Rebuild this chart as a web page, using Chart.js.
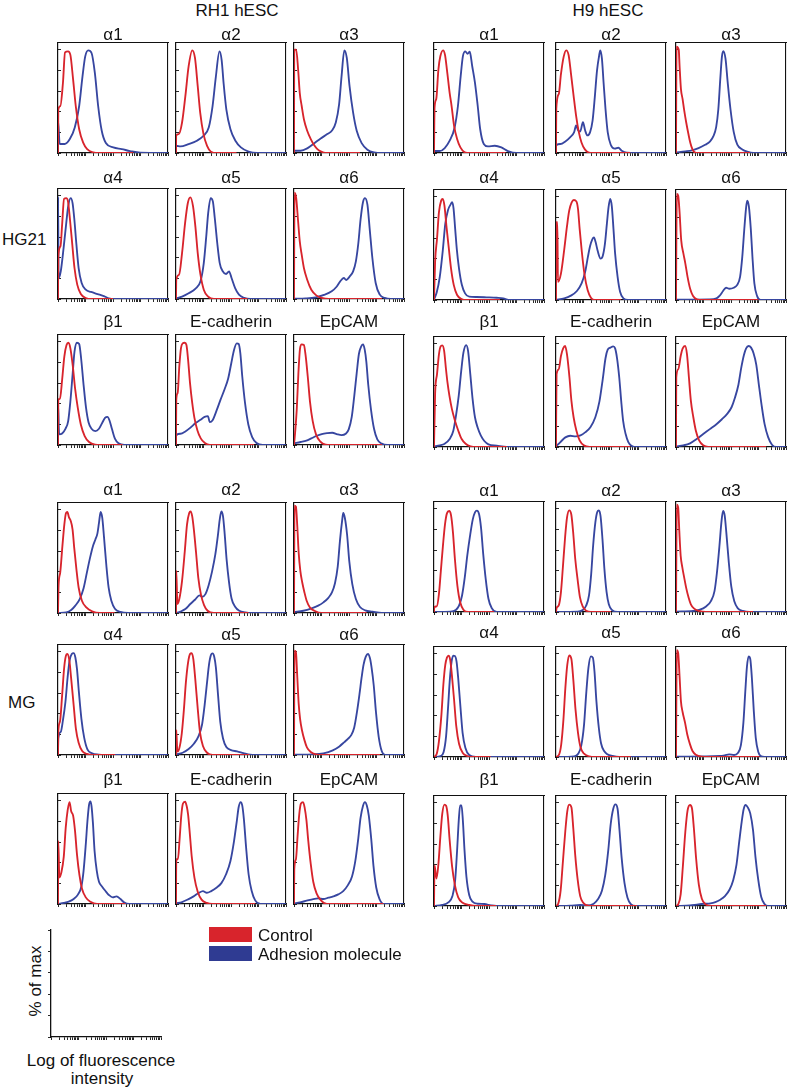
<!DOCTYPE html>
<html><head><meta charset="utf-8">
<script src="https://cdn.jsdelivr.net/npm/chart.js@4.4.1/dist/chart.umd.min.js"></script>
<style>
body{margin:0;background:#fff;}
#fig{position:relative;width:788px;height:1090px;overflow:hidden;font-family:"Liberation Sans",Arial,sans-serif;color:#111;background:#fff;}
.t{position:absolute;font-size:17px;line-height:17px;white-space:nowrap;}
canvas{position:absolute;}
.sw{position:absolute;}
</style></head><body><div id="fig"></div>
<script>
// ---------- DATA: x = log10 fluorescence (0..4 decades), y = % of max ----------
// RH1 hESC on HG21
const R_H_a1c=[0,0,.01,42,.085,45.5,.18,68,.256,97.4,.366,98.4,.45,95,.55,71,.646,45.5,.77,23,.915,10,1.06,3.8,1.28,0.6,1.5,0,2.74,0];
const R_H_a1a=[0,0,.005,31,.06,8.7,.24,8.7,.43,13.5,.61,24.7,.77,45.5,.89,74,.99,93.6,1.1,99.4,1.22,96.8,1.34,77.6,1.46,45.5,1.59,21.5,1.74,9.6,2.01,5.4,2.32,3.8,2.62,1.9,2.99,0.3,4,0];
const R_H_a2c=[0,0,.005,16.7,.1,18.3,.22,29.5,.34,55,.46,84,.59,99.4,.69,92,.79,64.7,.88,39,1.0,18.3,1.13,7,1.27,1.3,1.49,0,2.2,0];
const R_H_a2a=[0,0,.005,7,.16,6.4,.46,8.7,.76,11.9,1.0,16.7,1.19,24.7,1.33,45.5,1.45,74,1.58,98.4,1.66,90,1.73,67.9,1.83,42.3,1.98,23,2.16,11.9,2.36,5.4,2.64,1.3,2.95,0,4,0];
const R_H_a3c=[0,0,.01,100,.08,100,.15,80.8,.21,58,.28,45.5,.36,32.7,.48,21.5,.61,13.5,.73,7.7,.85,3.8,.99,1.3,1.15,0,2.4,0];
const R_H_a3a=[0,2.2,.24,2.2,.48,4.5,.73,9.3,.97,14.1,1.21,18.3,1.39,22,1.52,29.5,1.64,47,1.73,74.4,1.83,99.4,1.92,92,2.02,64.7,2.15,39,2.28,21.5,2.46,9.6,2.67,3.2,2.91,0.6,3.21,0,4,0];
const R_H_a4c=[0,0,.01,41.3,.09,51,.15,72,.22,97,.3,97.7,.36,95,.43,78.4,.52,52.6,.6,30,.7,13.9,.83,4.8,1.01,1,1.2,0,2.0,0];
const R_H_a4a=[0,0,.005,99,.02,20,.1,26.8,.21,51,.3,73.5,.37,89.7,.46,97.7,.53,92.9,.59,78.4,.67,52.6,.75,30,.86,15.5,1.01,9,1.2,6.8,1.44,4.8,1.69,2.6,1.85,0.6,2.06,0,4,0];
const R_H_a5c=[0,0,.01,18.7,.11,23.5,.22,44.5,.33,73.5,.43,92.9,.52,98.4,.62,89.7,.71,68.7,.79,44.5,.89,23.5,1.01,9,1.16,2.6,1.38,0,2.6,0];
const R_H_a5a=[0,0.6,.22,2.3,.46,5.5,.71,10,.89,17.1,1.01,34.8,1.1,60.6,1.17,83.2,1.26,97.7,1.34,94.5,1.41,78.4,1.5,54.2,1.59,34.8,1.7,26.8,1.82,24.2,1.93,26.8,2.02,20.3,2.15,10.6,2.29,4.2,2.48,1,2.7,0,4,0];
const R_H_a6c=[0,0,.02,103,.08,97.7,.15,75,.21,55.8,.28,42.9,.36,30,.48,18.7,.63,9,.81,3.5,1.01,1,1.27,0,3.2,0];
const R_H_a6a=[0,0.3,.42,0.6,.79,1.6,1.09,3.9,1.37,7.4,1.54,11.6,1.68,17.1,1.81,20.3,1.9,18.4,2.02,21.6,2.15,26.8,2.25,36.5,2.34,54.2,2.42,76.8,2.51,93.9,2.58,97.7,2.67,91.3,2.75,68.7,2.85,39.7,2.97,15.5,3.12,4.2,3.3,1,3.52,0,4,0];
const R_H_b1c=[0,0,.01,43.9,.07,44.6,.15,63.1,.23,85.6,.31,96.8,.38,99,.45,93.6,.54,76,.62,55.1,.72,35.9,.83,19.9,.97,8.7,1.13,2.9,1.35,0.3,1.55,0,2.35,0];
const R_H_b1a=[0,0,.005,39.1,.04,10.3,.15,11.2,.27,15.7,.37,23.1,.45,42.3,.53,67.9,.6,90.4,.69,99,.77,97.8,.84,84,.93,58.3,1.02,35.9,1.11,22.1,1.22,15.7,1.36,13.5,1.49,15.7,1.61,21.5,1.71,26.3,1.8,27.2,1.87,24,1.96,15.7,2.07,6.1,2.2,1.6,2.41,0,4,0];
const R_H_Ecc=[0,0,.01,43.9,.06,50.3,.12,76,.18,93.6,.24,98.4,.32,99,.38,96.8,.44,82.4,.51,59.9,.59,40.7,.67,26.3,.78,14.1,.9,6.4,1.05,1.9,1.23,0,2.84,0];
const R_H_Eca=[0,0,.005,9.3,.16,10.9,.34,13.1,.52,16.7,.71,21.2,.89,24.4,1.04,27.2,1.16,27.9,1.23,22.1,1.33,24,1.48,33.7,1.62,43.9,1.77,54.2,1.9,64.7,2.01,79.2,2.11,92,2.21,98.4,2.28,97.8,2.34,88.8,2.41,66.3,2.51,40.7,2.63,19.9,2.77,7.7,2.93,1.9,3.15,0,4,0];
const R_H_Epc=[0,0,.04,11.9,.1,34.3,.16,69.6,.22,93.6,.28,97.4,.36,96.8,.42,87.2,.5,66.3,.58,42.3,.68,23.1,.8,10.3,.95,3.5,1.15,0.3,1.33,0,3.2,0];
const R_H_Epa=[0,1.6,.24,2.9,.45,4.2,.63,6.4,.81,8.7,1.01,10.6,1.21,11.5,1.39,11.9,1.58,10.3,1.73,9.6,1.88,10.9,1.99,15.1,2.1,27.2,2.19,47.1,2.28,69.6,2.36,88.1,2.45,95.8,2.51,97.4,2.57,92.6,2.63,80.8,2.7,58.3,2.8,34.3,2.91,15.7,3.03,5.4,3.19,1.3,3.39,0,4,0];
// H9 hESC on HG21
const H_H_a1c=[0,0,.02,44,.08,52,.16,80.8,.23,93.6,.33,99.4,.4,95,.47,80.8,.57,58,.64,45.5,.73,26.3,.84,13.5,.96,5.4,1.12,0.6,1.3,0,2.6,0];
const H_H_a1a=[0,1.9,.21,1.9,.39,4.8,.57,11.9,.75,24.7,.87,45.5,.97,74.4,1.05,93.6,1.14,98.4,1.22,96,1.3,98,1.39,84,1.49,68,1.59,45.5,1.68,23,1.81,8.7,1.96,6.4,2.21,7,2.45,5.4,2.69,1.9,3.0,0,4,0];
const H_H_a2c=[0,0,.01,42.6,.1,57,.18,76.3,.28,93.3,.37,99.4,.46,94.6,.54,77.9,.64,55.4,.73,36.2,.83,20.2,.93,9.9,1.05,3.5,1.2,0.3,1.35,0,2.7,0];
const H_H_a2a=[0,0,.005,7.4,.16,8.7,.34,11.2,.52,15.4,.66,20.2,.73,26.6,.81,21.8,.88,20.8,.98,29.8,1.06,21.8,1.14,17,1.24,20.2,1.33,31.4,1.41,53.8,1.49,79.5,1.57,94.6,1.61,99.4,1.67,91.3,1.73,68.3,1.8,42.6,1.88,20.2,1.99,8,2.14,4.2,2.27,5.1,2.39,2.2,2.57,0.3,2.93,0,4,0];
const H_H_a3c=[0,0,.02,103,.1,100,.13,84.3,.18,61.9,.24,52.2,.3,41,.37,29.8,.45,18.6,.52,9.9,.6,3.5,.7,0.3,.8,0,2.69,0];
const H_H_a3a=[0,0.6,.34,1.6,.58,2.6,.82,4.8,1.06,8,1.24,11.2,1.36,16.3,1.46,25,1.54,42.6,1.61,71.5,1.67,93.3,1.72,98.7,1.8,91.3,1.88,68.3,1.98,42.6,2.1,20.2,2.23,8,2.41,3.5,2.59,1.3,2.81,0,4,0];
const H_H_a4c=[0,0,.04,36.9,.11,59.3,.18,85,.26,96.2,.32,97.8,.38,91.3,.45,72.1,.54,49.7,.62,30.4,.72,14.4,.84,4.8,1.0,1,1.18,0,2.4,0];
const H_H_a4a=[0,0.6,.1,7.4,.21,22.4,.32,48.1,.41,73.7,.51,87.2,.6,92.3,.66,94.6,.71,88.8,.77,68.9,.83,49,.91,30.4,1.01,15,1.13,6.4,1.28,3.2,1.55,2.9,1.91,2.6,2.28,2.2,2.52,1.6,2.71,0,4,0];
const H_H_a5c=[0,0,.01,75.3,.05,75.3,.07,17.6,.18,25.6,.3,49,.4,71.5,.48,86.5,.57,94.6,.65,96.8,.74,95.5,.8,88.1,.86,68.9,.94,46.5,1.04,24,1.15,9.6,1.27,2.2,1.41,0,2.36,0];
const H_H_a5a=[0,0.3,.3,1.6,.54,4.2,.76,8.7,.93,16,1.06,27.2,1.16,41.7,1.24,52.2,1.32,58.7,1.38,60.6,1.44,56.1,1.52,47.1,1.62,40.1,1.7,42.6,1.78,54.5,1.85,73.7,1.91,89.7,1.97,97.8,2.03,90.7,2.09,68.9,2.15,44.9,2.24,22.4,2.33,8,2.45,1.6,2.62,0,4,0];
const H_H_a6c=[0,0,.03,102.6,.08,101,.13,85,.19,57.7,.27,44.9,.34,35.3,.42,22.4,.52,10.3,.62,3.8,.76,0.6,.95,0,3.0,0];
const H_H_a6a=[0,0.3,1.19,0.6,1.47,1.6,1.59,4.2,1.71,8.7,1.82,11.9,1.94,10.9,2.1,11.9,2.22,14.4,2.33,22.4,2.41,41.7,2.48,67.3,2.55,89.7,2.59,96.2,2.65,90.7,2.72,68.9,2.78,41.7,2.85,16,2.95,3.8,3.07,0,4,0];
const H_H_b1c=[0,0,.04,51.3,.11,70.5,.18,89.7,.24,97.4,.3,98.4,.37,92.9,.43,76.9,.49,62.5,.56,49.7,.65,36.9,.76,25.6,.88,16,1.0,8,1.15,3.2,1.33,0.6,1.55,0,2.65,0];
const H_H_b1a=[0,0.6,.21,1.6,.39,3.2,.57,7.7,.7,15.4,.8,30.4,.9,49.7,.99,73.7,1.07,91.3,1.17,98.7,1.24,92.9,1.32,70.5,1.4,47.4,1.49,28.8,1.59,18.6,1.7,11.2,1.83,5.8,1.98,2.6,2.28,1.3,2.65,0,4,0];
const H_H_Ecc=[0,0,.02,70.5,.1,75.3,.18,88.1,.26,95.5,.33,97.8,.4,89.7,.49,67.3,.56,44.9,.64,28.8,.74,16,.86,6.4,1.01,1.6,1.22,0,2.7,0];
const H_H_Eca=[0,0.6,.16,4.8,.34,9.3,.52,10.9,.71,10.3,.89,11.2,1.07,14.4,1.25,19.2,1.43,28.8,1.58,44.2,1.7,65.7,1.8,85.9,1.88,94.2,1.98,96.2,2.08,97.4,2.15,95.5,2.22,85.9,2.3,67.3,2.37,44.9,2.44,25.6,2.53,12.8,2.63,4.8,2.74,1.3,2.95,0,4,0];
const H_H_Epc=[0,0,.01,67.3,.08,75.3,.17,88.1,.24,95.2,.33,97.8,.4,89.7,.47,67.3,.54,44.9,.63,28.8,.72,16,.84,6.4,.99,1.6,1.17,0,3.28,0];
const H_H_Epa=[0,0.6,.27,1.6,.51,3.5,.75,7.7,.99,12.5,1.23,17.3,1.47,22.1,1.67,26.9,1.86,32.1,2.02,38.5,2.14,47.4,2.27,60.3,2.37,76.3,2.47,89.1,2.55,95.5,2.64,97.8,2.73,96.2,2.82,90.7,2.92,79.5,3.01,60.9,3.11,41,3.22,22.4,3.35,9.6,3.49,2.2,3.64,0,4,0];
// RH1 hESC on MG
const R_M_a1c=[0,0,.02,26.3,.08,39.1,.16,64.7,.23,85.6,.29,96.8,.34,97.8,.4,92.6,.46,89.4,.53,80.8,.59,63.1,.67,42.3,.75,24.7,.87,11.9,1.03,5.4,1.24,1.6,1.52,0,2.06,0];
const R_M_a1a=[0,0,.3,0.6,.48,2.9,.63,7.1,.79,13.5,.93,24,1.05,39.1,1.16,52.9,1.27,64.7,1.36,71.2,1.43,76.6,1.49,87.2,1.55,97.8,1.61,92,1.67,74.4,1.76,45.5,1.84,24.7,1.94,11.9,2.07,4.2,2.27,1,2.55,0,4,0];
const R_M_a2c=[0,0,.01,40.7,.05,8.7,.12,13.5,.22,31.1,.32,59.9,.4,85.6,.48,96.8,.53,98.4,.59,93.6,.65,80.8,.73,58.3,.81,34.3,.91,17.6,1.02,7.7,1.15,2.2,1.37,0,2.64,0];
const R_M_a2a=[0,0,.16,1.3,.34,3.8,.52,8.7,.7,13.1,.85,17,.95,15.7,1.07,18.3,1.19,27.2,1.31,40.1,1.43,56.7,1.52,74.4,1.59,90.4,1.65,98.4,1.71,93.6,1.77,76.6,1.84,51.9,1.93,29.5,2.02,14.1,2.15,6.1,2.3,2.2,2.52,0.6,2.74,0,4,0];
const R_M_a3c=[0,0,.02,104,.07,103,.12,84,.17,58.3,.23,40.7,.3,29.5,.38,19.9,.46,11.9,.58,5.4,.76,1.9,1.01,0,2.64,0];
const R_M_a3a=[0,1,.34,2.2,.64,4.5,.88,7.1,1.07,10.3,1.25,14.7,1.38,19.9,1.49,28.8,1.59,44.9,1.67,69.6,1.75,89.4,1.79,96.8,1.85,92,1.93,76,2.01,50.3,2.12,27.9,2.25,13.5,2.4,5.8,2.59,2.6,2.86,1.3,3.19,0,4,0];
const R_M_a4c=[0,0,.01,22.4,.07,32.1,.15,57.7,.22,83.3,.28,95.2,.34,97.8,.41,92,.48,73.7,.57,48.1,.65,25.6,.75,11.9,.88,3.8,1.05,1,1.26,0,2.08,0];
const R_M_a4a=[0,0,.01,16,.1,22.4,.18,33.7,.27,51.3,.35,75.3,.42,91.3,.5,97.8,.57,98.7,.63,94.6,.69,83.3,.76,60.9,.85,35.3,.95,17,1.07,5.4,1.24,1.6,1.48,0.3,1.72,0,4,0];
const R_M_a5c=[0,0,.01,24,.05,3.2,.12,6.4,.21,20.8,.29,44.9,.36,70.5,.44,89.7,.51,97.8,.57,98.7,.63,92.9,.7,73.7,.79,44.9,.87,22.4,.98,8.7,1.13,2.2,1.33,0,2.67,0];
const R_M_a5a=[0,0.6,.24,2.2,.46,5.8,.65,10.9,.82,18.3,.95,29.8,1.04,48.1,1.13,70.5,1.2,87.5,1.27,96.8,1.33,98.4,1.39,95.2,1.45,84.9,1.53,57.7,1.61,32.1,1.71,16,1.83,7.7,2.0,4.8,2.22,3.5,2.45,1.9,2.69,0.3,2.91,0,4,0];
const R_M_a6c=[0,0,.02,101,.07,99.4,.12,75.3,.17,49.7,.22,35.3,.29,24,.38,14.4,.47,7.4,.61,2.9,.8,0.6,1.01,0,3.13,0];
const R_M_a6a=[0,0.3,.7,0.6,1.07,1.6,1.41,4.5,1.65,8.3,1.83,12.5,1.96,15.7,2.08,19.2,2.19,26.6,2.29,41.7,2.38,58.7,2.46,75.3,2.53,87.5,2.61,95.2,2.69,97.8,2.76,93.9,2.82,84.9,2.9,67.3,2.98,41.7,3.08,17.6,3.19,3.8,3.31,0,4,0];
const R_M_b1c=[0,0,.01,60.9,.05,25.6,.12,30.4,.21,45.8,.28,73.7,.35,90.7,.42,98.7,.48,89.7,.55,85.6,.62,70.5,.69,48.1,.78,27.9,.87,15.1,1.01,6.4,1.18,2.2,1.42,0,2.45,0];
const R_M_b1a=[0,0,.21,1,.39,2.2,.57,4.8,.73,9.3,.85,17,.93,32.1,1.01,57.7,1.07,80.1,1.13,96.2,1.18,99.4,1.22,94.6,1.27,78.5,1.33,51.3,1.41,32.1,1.49,21.5,1.6,17,1.72,12.8,1.85,8.7,1.99,6.4,2.13,7.4,2.27,4.8,2.4,1.6,2.59,0,4,0];
const R_M_Ecc=[0,0,.01,43.3,.07,43.3,.13,62.5,.19,84.9,.25,97.1,.33,99,.39,94.6,.44,86.5,.5,68.9,.57,46.5,.67,25.6,.79,11.9,.93,4.2,1.12,1,1.31,0,2.88,0];
const R_M_Eca=[0,0.6,.22,1.9,.44,4.5,.64,7.4,.82,10.6,.98,12.5,1.12,10.9,1.28,12.5,1.47,15.7,1.65,20.2,1.82,28.8,1.98,41.7,2.11,60.9,2.21,80.1,2.28,93.9,2.35,98.7,2.41,95.2,2.47,81.7,2.55,54.5,2.64,28.8,2.75,12.8,2.88,3.5,3.07,0,4,0];
const R_M_Epc=[0,0,.01,33.7,.07,43.3,.13,65.7,.19,86.5,.25,97.1,.33,98.7,.39,92.9,.45,81.7,.52,60.9,.61,38.5,.7,21.5,.82,10.3,.98,3.5,1.19,0,3.25,0];
const R_M_Epa=[0,0.6,.22,1.6,.46,3.2,.7,4.8,.88,5.4,1.07,4.8,1.25,6.1,1.43,7.4,1.61,9.3,1.79,12.5,1.96,18.3,2.11,26.6,2.23,41.7,2.34,64.1,2.42,83.3,2.51,95.2,2.58,98.7,2.65,95.2,2.72,85.6,2.81,62.5,2.89,36.9,2.99,16,3.11,4.8,3.27,0,4,0];
// H9 hESC on MG
const H_M_a1c=[0,0,.01,4.8,.1,5.4,.18,17.6,.25,40.1,.33,65.7,.4,84.9,.47,95.5,.55,97.8,.62,93.6,.69,76.9,.76,51.3,.85,25.6,.95,9.6,1.07,2.2,1.24,0,2.18,0];
const H_M_a1a=[0,0,.61,0.3,.79,1.9,.91,6.1,1.02,16,1.12,33.7,1.21,54.5,1.31,73.7,1.41,89.7,1.49,96.5,1.56,98.1,1.64,94.6,1.71,81.7,1.79,56.1,1.88,32.1,1.98,12.8,2.1,3.8,2.28,0,4,0];
const H_M_a2c=[0,0,.02,3.8,.1,6.4,.18,19.2,.25,43.3,.33,72.1,.4,91.3,.48,98.4,.56,93.9,.63,75.3,.7,51.3,.79,30.4,.87,14.4,.97,5.4,1.1,1.3,1.27,0,2.0,0];
const H_M_a2a=[0,0,.79,0.3,.97,1.9,1.09,5.8,1.2,16,1.28,36.9,1.35,64.1,1.43,86.5,1.5,96.8,1.56,98.4,1.62,92.9,1.69,70.5,1.76,41.7,1.84,19.2,1.92,7.4,2.04,1.9,2.24,0,4,0];
const H_M_a3c=[0,0,.03,104,.08,101,.12,78.5,.17,54.5,.23,43.3,.3,33,.37,23.4,.46,13.8,.54,7.4,.65,3.5,.84,1,1.08,0,2.8,0];
const H_M_a3a=[0,0.3,.63,1,.87,2.2,1.08,5.1,1.27,10.6,1.4,20.2,1.49,38.5,1.58,64.1,1.65,86.5,1.71,97.8,1.77,93.6,1.83,76.9,1.92,48.1,2.01,24.7,2.12,10.3,2.25,3.5,2.43,1,2.67,0,4,0];
const H_M_a4c=[0,0,.1,3.2,.18,15.4,.27,41,.34,69.9,.41,89.1,.47,96.2,.53,98.1,.59,93.9,.65,79.5,.73,55.4,.81,29.8,.91,12.8,1.04,4.2,1.21,1,1.39,0,2.06,0];
const H_M_a4a=[0,0,.24,1,.35,4.8,.44,20.2,.51,47.4,.58,76.3,.64,92.3,.7,98.1,.76,97.8,.82,92.3,.88,76.3,.96,49,1.04,23.4,1.14,9,1.28,1.9,1.52,0,4,0];
const H_M_a5c=[0,0,.11,2.2,.19,12.2,.27,36.2,.34,66.7,.41,89.1,.48,98.4,.56,94.9,.63,74.7,.71,45.8,.8,23.4,.89,9.6,1.02,3.2,1.21,0.6,1.41,0,2.72,0];
const H_M_a5a=[0,0,.66,0.6,.8,2.9,.92,11.2,1.02,31.4,1.1,61.9,1.18,86.5,1.27,97.4,1.34,96.2,1.4,82.7,1.47,53.8,1.56,27.6,1.64,13.1,1.75,5.8,1.87,2.6,2.05,1,2.3,0,4,0];
const H_M_a6c=[0,0,.03,103.5,.08,100.3,.13,77.9,.18,53.8,.24,43.6,.33,33,.41,21.8,.51,12.2,.6,5.8,.72,2.2,.93,0.3,1.17,0,3.04,0];
const H_M_a6a=[0,0.3,1.59,1,1.77,1.6,1.93,2.6,2.11,1.9,2.25,3.8,2.36,11.5,2.45,33,2.52,63.5,2.58,87.5,2.64,97.4,2.7,94.9,2.76,76.3,2.83,44.2,2.9,18.6,2.99,5.1,3.08,1,3.22,0,4,0];
const H_M_b1c=[0,0,.02,39.4,.09,26.6,.16,40.4,.23,66.7,.3,89.1,.38,98.1,.44,97.1,.5,87.5,.57,63.5,.66,37.8,.76,20.2,.88,8.3,1.04,3.2,1.28,1,1.55,0,2.26,0];
const H_M_b1a=[0,0,.3,1,.52,3.5,.67,9.6,.77,25,.84,53.8,.9,82.7,.95,97.4,1.0,97.4,1.05,82.7,1.11,53.8,1.18,28.2,1.28,10.6,1.4,4.2,1.59,2.2,1.83,1.9,2.07,0.6,2.26,0,4,0];
const H_M_Ecc=[0,0,.08,2.2,.17,15.4,.25,42.6,.34,73.1,.41,91.7,.48,98.1,.56,95.5,.63,74.7,.7,49,.79,25,.88,9.6,.99,3.2,1.21,0,2.94,0];
const H_M_Eca=[0,0,.52,0.3,.88,1,1.12,0.6,1.37,2.2,1.53,6.7,1.67,14.7,1.79,29.8,1.9,53.8,1.99,79.5,2.08,93.9,2.16,98.4,2.24,93.9,2.31,73.1,2.39,45.8,2.49,22.4,2.6,8,2.72,1.9,2.9,0,4,0];
const H_M_Epc=[0,0,.08,1.6,.17,11.2,.25,38.5,.34,72.1,.42,92.3,.51,97.8,.58,94.6,.65,75.3,.73,46.5,.83,20.8,.94,7.1,1.08,1.6,1.29,0,3.28,0];
const H_M_Epa=[0,0,.51,0.6,.81,1.6,1.05,2.2,1.25,2.6,1.43,3.8,1.61,6.1,1.78,9.6,1.95,16,2.08,25,2.2,40.1,2.3,62.5,2.39,81.7,2.46,93.6,2.53,97.8,2.61,95.5,2.7,89.7,2.8,73.7,2.89,47.4,2.99,25.6,3.1,8.7,3.22,1.9,3.34,0,4,0];

const groupTitles=['RH1 hESC','H9 hESC'];
const substrateLabels=['HG21','MG'];
const markers=['α1','α2','α3','α4','α5','α6','β1','E-cadherin','EpCAM'];
const seriesNames=['Control','Adhesion molecule'];
const yTickValues=[0,20,40,60,80,100];
const panelData=[
 [ // RH1
  [[R_H_a1c,R_H_a1a],[R_H_a2c,R_H_a2a],[R_H_a3c,R_H_a3a],[R_H_a4c,R_H_a4a],[R_H_a5c,R_H_a5a],[R_H_a6c,R_H_a6a],[R_H_b1c,R_H_b1a],[R_H_Ecc,R_H_Eca],[R_H_Epc,R_H_Epa]],
  [[R_M_a1c,R_M_a1a],[R_M_a2c,R_M_a2a],[R_M_a3c,R_M_a3a],[R_M_a4c,R_M_a4a],[R_M_a5c,R_M_a5a],[R_M_a6c,R_M_a6a],[R_M_b1c,R_M_b1a],[R_M_Ecc,R_M_Eca],[R_M_Epc,R_M_Epa]]
 ],
 [ // H9
  [[H_H_a1c,H_H_a1a],[H_H_a2c,H_H_a2a],[H_H_a3c,H_H_a3a],[H_H_a4c,H_H_a4a],[H_H_a5c,H_H_a5a],[H_H_a6c,H_H_a6a],[H_H_b1c,H_H_b1a],[H_H_Ecc,H_H_Eca],[H_H_Epc,H_H_Epa]],
  [[H_M_a1c,H_M_a1a],[H_M_a2c,H_M_a2a],[H_M_a3c,H_M_a3a],[H_M_a4c,H_M_a4a],[H_M_a5c,H_M_a5a],[H_M_a6c,H_M_a6a],[H_M_b1c,H_M_b1a],[H_M_Ecc,H_M_Eca],[H_M_Epc,H_M_Epa]]
 ]
];

// ---------- LAYOUT / STYLE ----------
const RED='#d8242c', BLUE='#3746a0', INK='#111';
const colLeft=[[58,176,294],[434,556,676]];
const rowTop=[[43,189,335,503,645,794],[43,190,337,502,647,796]];
const titleBase=[[40,183,327,495,640,785],[40,183,327,496,638,785]];
const PW=110, PH=110, PAD=6, YMAX=106.5, LW=1.85;
const fig=document.getElementById('fig');
Chart.defaults.font.family='"Liberation Sans", Arial, sans-serif';

function pts(a){const o=[];for(let i=0;i<a.length;i+=2)o.push({x:a[i],y:a[i+1]});return o;}
function logTicks(){const t=[];for(let n=0;n<4;n++)for(let k=1;k<10;k++)t.push(n+Math.log10(k));t.push(4);return t.map(v=>({value:v}));}
function text(str,x,baseline,opts={}){
  const s=document.createElement('div');s.className='t';s.textContent=str;
  s.style.top=(baseline-14.4)+'px';
  s.style.left=x+'px';
  if(opts.center)s.style.transform='translateX(-50%)';
  fig.appendChild(s);return s;
}
function makeCanvas(x,y,w,h){
  const c=document.createElement('canvas');
  c.width=w;c.height=h;c.style.width=w+'px';c.style.height=h+'px';
  c.style.left=x+'px';c.style.top=y+'px';fig.appendChild(c);return c;
}
function panel(left,top,ctrl,adh){
  const c=makeCanvas(left-PAD,top-PAD,PW+2*PAD,PH+2*PAD);
  const line=(d,col,lab)=>({label:lab,data:pts(d),borderColor:col,borderWidth:LW,pointRadius:0,cubicInterpolationMode:'monotone',fill:false,borderJoinStyle:'round'});
  new Chart(c,{type:'line',
    data:{datasets:[line(ctrl,RED,seriesNames[0]),line(adh,BLUE,seriesNames[1])]},
    options:{responsive:false,animation:false,devicePixelRatio:1,layout:{padding:0},
      plugins:{legend:{display:false},tooltip:{enabled:false}},
      events:[],
      scales:{
        x:{type:'linear',position:'bottom',min:0,max:4,afterBuildTicks:s=>{s.ticks=logTicks();},
           ticks:{display:false},grid:{drawOnChartArea:false,drawTicks:true,tickLength:3,color:INK,lineWidth:0.9},
           border:{color:INK,width:1.2},afterFit:s=>{s.height=PAD;}},
        y:{type:'linear',position:'left',min:0,max:YMAX,afterBuildTicks:s=>{s.ticks=yTickValues.map(v=>({value:v}));},
           ticks:{display:false},grid:{drawOnChartArea:false,drawTicks:true,tickLength:-3,color:INK,lineWidth:0.9},
           border:{color:INK,width:1.2},afterFit:s=>{s.width=PAD;}},
        xt:{type:'linear',position:'top',min:0,max:1,ticks:{display:false},grid:{display:false,drawTicks:false},
           border:{color:INK,width:1.1},afterFit:s=>{s.height=PAD;}},
        yr:{type:'linear',position:'right',min:0,max:1,ticks:{display:false},grid:{display:false,drawTicks:false},
           border:{color:INK,width:1.1},afterFit:s=>{s.width=PAD;}}
      }}});
}

text(groupTitles[0],237,16,{center:true});
text(groupTitles[1],608,16,{center:true});
text(substrateLabels[0],2,245);
text(substrateLabels[1],8,708);

for(let g=0;g<2;g++){
  for(let s=0;s<2;s++){
    for(let m=0;m<9;m++){
      const row=s*3+Math.floor(m/3), col=m%3;
      const left=colLeft[g][col], top=rowTop[g][row];
      const [ctrl,adh]=panelData[g][s][m];
      panel(left,top,ctrl,adh);
      text(markers[m],left+PW/2,titleBase[g][row],{center:true});
    }
  }
}

// axis key panel
(function(){
  const L=51,T=930,W=110,H=107;
  const c=makeCanvas(L-PAD,T-PAD,W+2*PAD,H+2*PAD);
  new Chart(c,{type:'line',data:{datasets:[]},
    options:{responsive:false,animation:false,devicePixelRatio:1,layout:{padding:{top:PAD,right:PAD}},
      plugins:{legend:{display:false},tooltip:{enabled:false}},events:[],
      scales:{
        x:{type:'linear',position:'bottom',min:0,max:4,afterBuildTicks:s=>{s.ticks=logTicks();},
           ticks:{display:false},grid:{drawOnChartArea:false,drawTicks:true,tickLength:3,color:INK,lineWidth:0.9},
           border:{color:INK,width:1.3},afterFit:s=>{s.height=PAD;}},
        y:{type:'linear',position:'left',min:0,max:100,afterBuildTicks:s=>{s.ticks=yTickValues.map(v=>({value:v}));},
           ticks:{display:false},grid:{drawOnChartArea:false,drawTicks:true,tickLength:3,color:INK,lineWidth:0.9},
           border:{color:INK,width:1.3},afterFit:s=>{s.width=PAD;}}
      }}});
  const yl=document.createElement('div');yl.className='t';yl.textContent='% of max';
  yl.style.left='35px';yl.style.top='981px';yl.style.transform='translate(-50%,-50%) rotate(-90deg)';
  fig.appendChild(yl);
  text('Log of fluorescence',101,1066,{center:true});
  text('intensity',102,1084,{center:true});
})();

// legend
(function(){
  const cols=[RED,'#2f3b92'];
  const tops=[927,946];
  for(let i=0;i<2;i++){
    const d=document.createElement('div');d.className='sw';
    d.style.left='209px';d.style.top=tops[i]+'px';d.style.width='43px';d.style.height='15px';
    d.style.background=cols[i];fig.appendChild(d);
    text(seriesNames[i],258,tops[i]+14);
  }
})();
</script></body></html>
